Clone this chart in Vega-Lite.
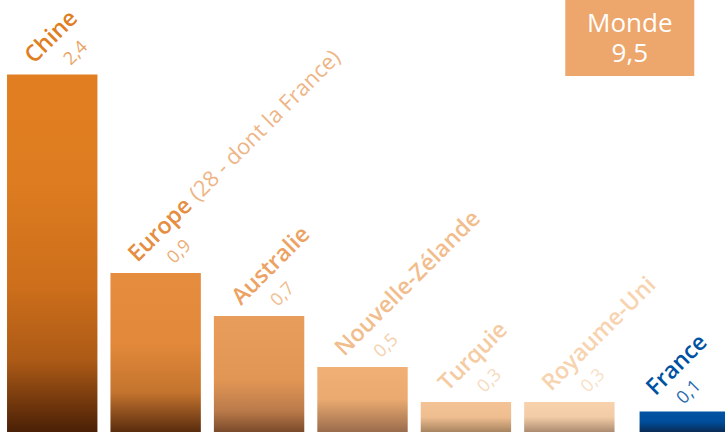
{
  "$schema": "https://vega.github.io/schema/vega-lite/v6.json",
  "width": 725,
  "height": 432,
  "padding": 0,
  "autosize": "none",
  "background": "white",
  "config": {"view": {"stroke": null}},
  "datasets": {
    "pays": [
      {"pays": "Chine", "hauteur": 2.4, "valeur": "2,4", "complement": ""},
      {"pays": "Europe", "hauteur": 1.067, "valeur": "0,9", "complement": "(28 - dont la France)"},
      {"pays": "Australie", "hauteur": 0.779, "valeur": "0,7", "complement": ""},
      {"pays": "Nouvelle-Zélande", "hauteur": 0.436, "valeur": "0,5", "complement": ""},
      {"pays": "Turquie", "hauteur": 0.201, "valeur": "0,3", "complement": ""},
      {"pays": "Royaume-Uni", "hauteur": 0.201, "valeur": "0,3", "complement": ""},
      {"pays": "France", "hauteur": 0.138, "valeur": "0,1", "complement": ""}
    ],
    "monde": [{"libelle": "Monde", "total": "9,5"}]
  },
  "data": {"name": "pays"},
  "layer": [
    {
      "transform": [{"filter": "datum.pays !== 'France'"}],
      "mark": {"type": "bar"},
      "encoding": {
        "x": {
          "field": "pays", "type": "nominal", "sort": null, "axis": null,
          "scale": {
            "domain": ["Chine", "Europe", "Australie", "Nouvelle-Zélande", "Turquie", "Royaume-Uni", "France"],
            "paddingInner": 0.126, "paddingOuter": 0.068, "align": 0.5
          }
        },
        "y": {"field": "hauteur", "type": "quantitative", "axis": null, "scale": {"domain": [0, 2.9], "nice": false}},
        "color": {
          "condition": [
            {"test": "datum.pays === 'Chine'", "value": {"gradient": "linear", "x1": 0, "y1": 0, "x2": 0, "y2": 1, "stops": [{"offset": 0, "color": "#E17E21"}, {"offset": 0.3, "color": "#DD7C20"}, {"offset": 0.6, "color": "#CC6E1B"}, {"offset": 0.8, "color": "#AC5A16"}, {"offset": 1, "color": "#4A2006"}]}},
            {"test": "datum.pays === 'Europe'", "value": {"gradient": "linear", "x1": 0, "y1": 0, "x2": 0, "y2": 1, "stops": [{"offset": 0, "color": "#E68C3E"}, {"offset": 0.45, "color": "#E1883A"}, {"offset": 0.75, "color": "#C4742E"}, {"offset": 1, "color": "#5A2C0E"}]}},
            {"test": "datum.pays === 'Australie'", "value": {"gradient": "linear", "x1": 0, "y1": 0, "x2": 0, "y2": 1, "stops": [{"offset": 0, "color": "#E99D5D"}, {"offset": 0.55, "color": "#E29655"}, {"offset": 0.82, "color": "#BA7A4A"}, {"offset": 1, "color": "#7A4A2A"}]}},
            {"test": "datum.pays === 'Nouvelle-Zélande'", "value": {"gradient": "linear", "x1": 0, "y1": 0, "x2": 0, "y2": 1, "stops": [{"offset": 0, "color": "#F1B074"}, {"offset": 0.5, "color": "#EAAA70"}, {"offset": 1, "color": "#9A6C4C"}]}},
            {"test": "datum.pays === 'Turquie'", "value": {"gradient": "linear", "x1": 0, "y1": 0, "x2": 0, "y2": 1, "stops": [{"offset": 0, "color": "#F3C396"}, {"offset": 0.5, "color": "#EFBE90"}, {"offset": 1, "color": "#A88460"}]}},
            {"test": "datum.pays === 'Royaume-Uni'", "value": {"gradient": "linear", "x1": 0, "y1": 0, "x2": 0, "y2": 1, "stops": [{"offset": 0, "color": "#F7D2AD"}, {"offset": 0.5, "color": "#F2CCA6"}, {"offset": 1, "color": "#AC8C70"}]}}
          ],
          "value": "#E17E21"
        }
      }
    },
    {
      "transform": [{"filter": "datum.pays === 'France'"}],
      "mark": {"type": "bar", "xOffset": 12, "color": {"gradient": "linear", "x1": 0, "y1": 0, "x2": 0, "y2": 1, "stops": [{"offset": 0, "color": "#0153A4"}, {"offset": 0.5, "color": "#014E9C"}, {"offset": 1, "color": "#082B55"}]}},
      "encoding": {
        "x": {"field": "pays", "type": "nominal"},
        "y": {"field": "hauteur", "type": "quantitative"}
      }
    },
    {
      "transform": [{"filter": "datum.pays !== 'France'"}],
      "mark": {"type": "text", "align": "left", "baseline": "alphabetic", "angle": 315, "font": "Open Sans", "fontSize": 23, "fontWeight": 600, "xOffset": 27, "yOffset": -10},
      "encoding": {
        "x": {"field": "pays", "type": "nominal", "bandPosition": 0},
        "y": {"field": "hauteur", "type": "quantitative"},
        "text": {"field": "pays"},
        "color": {"field": "pays", "type": "nominal", "legend": null, "scale": {"domain": ["Chine", "Europe", "Australie", "Nouvelle-Zélande", "Turquie", "Royaume-Uni", "France"], "range": ["#E07E22", "#E58D40", "#EBA262", "#F2BD8C", "#F5CBA2", "#F7D3AF", "#0151A2"]}}
      }
    },
    {
      "transform": [{"filter": "datum.pays !== 'France'"}],
      "mark": {"type": "text", "align": "left", "baseline": "alphabetic", "angle": 315, "font": "Open Sans", "fontSize": 18, "fontWeight": "normal", "xOffset": 27, "yOffset": -10, "dx": 25, "dy": 27, "opacity": 0.7},
      "encoding": {
        "x": {"field": "pays", "type": "nominal", "bandPosition": 0},
        "y": {"field": "hauteur", "type": "quantitative"},
        "text": {"field": "valeur"},
        "color": {"field": "pays", "type": "nominal", "legend": null}
      }
    },
    {
      "transform": [{"filter": "datum.complement !== ''"}],
      "mark": {"type": "text", "align": "left", "baseline": "alphabetic", "angle": 315, "font": "Open Sans", "fontSize": 22, "fontWeight": "normal", "xOffset": 27, "yOffset": -10, "dx": 86, "color": "#EEB586"},
      "encoding": {
        "x": {"field": "pays", "type": "nominal", "bandPosition": 0},
        "y": {"field": "hauteur", "type": "quantitative"},
        "text": {"field": "complement"}
      }
    },
    {
      "transform": [{"filter": "datum.pays === 'France'"}],
      "mark": {"type": "text", "align": "left", "baseline": "alphabetic", "angle": 315, "font": "Open Sans", "fontSize": 23, "fontWeight": 600, "xOffset": 28, "yOffset": -15},
      "encoding": {
        "x": {"field": "pays", "type": "nominal", "bandPosition": 0},
        "y": {"field": "hauteur", "type": "quantitative"},
        "text": {"field": "pays"},
        "color": {"field": "pays", "type": "nominal", "legend": null}
      }
    },
    {
      "transform": [{"filter": "datum.pays === 'France'"}],
      "mark": {"type": "text", "align": "left", "baseline": "alphabetic", "angle": 315, "font": "Open Sans", "fontSize": 18, "fontWeight": "normal", "xOffset": 28, "yOffset": -15, "dx": 14, "dy": 26, "opacity": 0.85},
      "encoding": {
        "x": {"field": "pays", "type": "nominal", "bandPosition": 0},
        "y": {"field": "hauteur", "type": "quantitative"},
        "text": {"field": "valeur"},
        "color": {"field": "pays", "type": "nominal", "legend": null}
      }
    },
    {
      "data": {"name": "monde"},
      "mark": {"type": "bar", "color": "#EDA76C", "width": 129, "xOffset": -43},
      "encoding": {
        "x": {"datum": "France", "type": "nominal"},
        "y": {"datum": 2.9, "type": "quantitative"},
        "y2": {"datum": 2.39}
      }
    },
    {
      "data": {"name": "monde"},
      "transform": [{"calculate": "datum.libelle + '\\n' + datum.total", "as": "etiquette"}],
      "mark": {"type": "text", "align": "center", "baseline": "alphabetic", "font": "Open Sans", "fontSize": 26, "lineHeight": 30, "lineBreak": "\n", "color": "white", "xOffset": -43},
      "encoding": {
        "x": {"datum": "France", "type": "nominal"},
        "y": {"datum": 2.685, "type": "quantitative"},
        "text": {"field": "etiquette"}
      }
    }
  ]
}
